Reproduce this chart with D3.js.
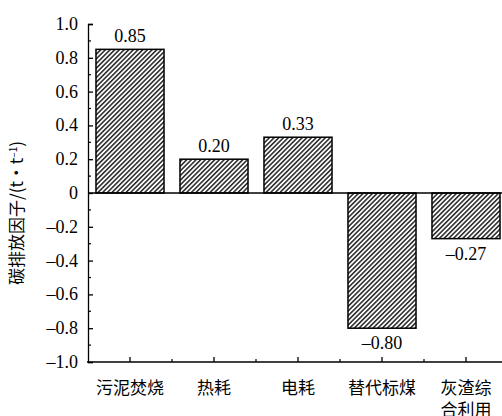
<!DOCTYPE html>
<html>
<head>
<meta charset="utf-8">
<script src="https://cdn.jsdelivr.net/npm/d3@7"></script>
<style>
  body { margin: 0; background: #fff; }
  svg { display: block; }
  .serif { font-family: "Liberation Serif", "Times New Roman", Times, "DejaVu Serif", serif; }
  .cjk { font-family: "Noto Sans CJK SC", "Noto Sans CJK JP", sans-serif; }
</style>
</head>
<body>
<div id="chart"></div>
<script>
// data
var categories = ["污泥焚烧", "热耗", "电耗", "替代标煤", "灰渣综合利用"];
var catLines = [["污泥焚烧"], ["热耗"], ["电耗"], ["替代标煤"], ["灰渣综", "合利用"]];
var values = [0.85, 0.20, 0.33, -0.80, -0.27];
var valueLabels = ["0.85", "0.20", "0.33", "\u20130.80", "\u20130.27"];
var yTicks = [1.0, 0.8, 0.6, 0.4, 0.2, 0, -0.2, -0.4, -0.6, -0.8, -1.0];

var W = 502, H = 416;

var svg = d3.select("#chart").append("svg")
    .attr("width", W)
    .attr("height", H);

// hatch pattern
var defs = svg.append("defs");
var pat = defs.append("pattern")
    .attr("id", "hatch")
    .attr("patternUnits", "userSpaceOnUse")
    .attr("width", 3.3)
    .attr("height", 3.3)
    .attr("patternTransform", "rotate(45)");
pat.append("rect").attr("width", 3.3).attr("height", 3.3).attr("fill", "#fff");
pat.append("line")
    .attr("x1", 0.8).attr("y1", 0).attr("x2", 0.8).attr("y2", 3.3)
    .attr("stroke", "#000").attr("stroke-width", 1.3);

var x = d3.scaleBand()
    .domain(categories)
    .range([88, 508])
    .paddingInner(0.19)
    .paddingOuter(0.095);

var xc = d3.scaleBand().domain(categories).range([88, 508]); // for ticks

var y = d3.scaleLinear()
    .domain([-1, 1])
    .range([362, 24]);

// bars
svg.selectAll("rect.bar")
    .data(values)
    .enter()
    .append("rect")
    .attr("class", "bar")
    .attr("x", function (d, i) { return x(categories[i]); })
    .attr("width", x.bandwidth())
    .attr("y", function (d) { return y(Math.max(0, d)); })
    .attr("height", function (d) { return Math.abs(y(d) - y(0)); })
    .attr("fill", "url(#hatch)")
    .attr("stroke", "#000")
    .attr("stroke-width", 1.5);

// zero line
svg.append("line")
    .attr("x1", 88).attr("x2", W)
    .attr("y1", y(0)).attr("y2", y(0))
    .attr("stroke", "#000").attr("stroke-width", 1.3);

// value labels
svg.selectAll("text.val")
    .data(values)
    .enter()
    .append("text")
    .attr("class", "val serif")
    .attr("x", function (d, i) { return x(categories[i]) + x.bandwidth() / 2; })
    .attr("y", function (d) { return d >= 0 ? y(d) - 7 : y(d) + 21; })
    .attr("text-anchor", "middle")
    .style("font-size", "18px")
    .text(function (d, i) { return valueLabels[i]; });

// y axis
var yAxis = d3.axisRight(y)
    .tickValues(yTicks)
    .tickSize(5)
    .tickFormat("");
var gy = svg.append("g").attr("transform", "translate(88,0)").call(yAxis);
gy.select(".domain").attr("stroke-width", 1.3);
gy.selectAll(".tick line").attr("stroke-width", 1.3);

// minor y ticks
var minor = d3.range(-9, 10, 2).map(function (v) { return v / 10; });
svg.selectAll("line.ym")
    .data(minor)
    .enter()
    .append("line")
    .attr("x1", 88).attr("x2", 91)
    .attr("y1", function (d) { return y(d); })
    .attr("y2", function (d) { return y(d); })
    .attr("stroke", "#000").attr("stroke-width", 1.2);

// y tick labels
svg.selectAll("text.yl")
    .data(yTicks)
    .enter()
    .append("text")
    .attr("class", "yl serif")
    .attr("x", 78)
    .attr("y", function (d) { return y(d) + 6; })
    .attr("text-anchor", "end")
    .style("font-size", "18px")
    .text(function (d) {
      if (d === 0) return "0";
      return (d < 0 ? "\u2013" : "") + Math.abs(d).toFixed(1);
    });

// x axis
svg.append("line")
    .attr("x1", 87).attr("x2", W)
    .attr("y1", 362).attr("y2", 362)
    .attr("stroke", "#000").attr("stroke-width", 1.5);

svg.selectAll("line.xt")
    .data(categories)
    .enter()
    .append("line")
    .attr("x1", function (d) { return xc(d) + xc.bandwidth() / 2; })
    .attr("x2", function (d) { return xc(d) + xc.bandwidth() / 2; })
    .attr("y1", 362).attr("y2", 357)
    .attr("stroke", "#000").attr("stroke-width", 1.3);

svg.selectAll("line.xm")
    .data(categories.slice(1))
    .enter()
    .append("line")
    .attr("x1", function (d) { return xc(d); })
    .attr("x2", function (d) { return xc(d); })
    .attr("y1", 362).attr("y2", 359)
    .attr("stroke", "#000").attr("stroke-width", 1.2);

// category labels
var cl = svg.selectAll("text.cat")
    .data(catLines)
    .enter()
    .append("text")
    .attr("class", "cat cjk")
    .attr("text-anchor", "middle")
    .style("font-size", "17px");
cl.each(function (lines, i) {
  var t = d3.select(this);
  var cx = xc(categories[i]) + xc.bandwidth() / 2;
  lines.forEach(function (s, j) {
    t.append("tspan")
      .attr("x", cx)
      .attr("y", 394 + j * 22)
      .text(s);
  });
});

// y title
svg.append("text")
    .attr("class", "cjk")
    .attr("transform", "translate(23,213) rotate(-90)")
    .attr("text-anchor", "middle")
    .style("font-size", "17px")
    .html("碳排放因子/(t\u00b7t<tspan dy='-6' font-size='10px'>\u20131</tspan><tspan dy='6'>)</tspan>");
</script>
</body>
</html>
